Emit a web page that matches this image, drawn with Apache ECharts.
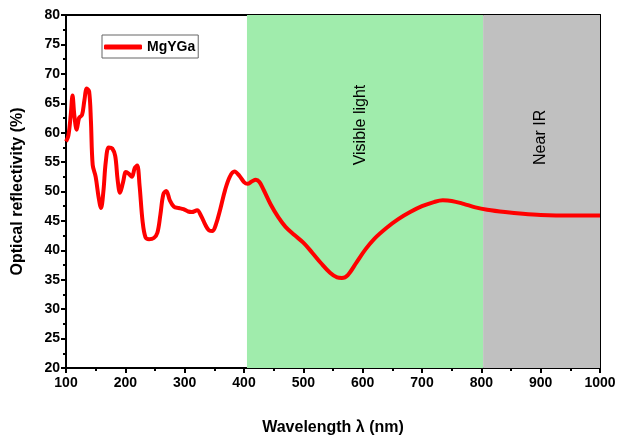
<!DOCTYPE html>
<html>
<head>
<meta charset="utf-8">
<script src="https://cdn.jsdelivr.net/npm/echarts@6/dist/echarts.min.js"></script>
<style>html,body{margin:0;padding:0;background:#fff}#c{width:621px;height:443px}</style>
</head>
<body>
<div id="c"></div>
<script>
var wavelength = [100,104,108,111,114,118,122,127,131,135,139,142,145,150,155,159,163,167,172,178,183,187,191,196,201,206,211,216,220,224,229,234,240,248,254,259,264,269,275,282,290,298,306,312,321,328,335,341,347,353,360,368,376,384,392,400,406,413,420,426,433,445,458,470,485,500,515,530,545,557,565,575,590,605,620,640,660,680,700,720,735,750,770,790,810,840,870,900,950,1000];
var reflectivity = [58.5,59.5,63,66.3,63,60.5,62.5,63,65.5,67.5,67,62,54.5,52.5,49,47.2,50,55,57.5,57.3,56,52,49.8,51.5,53.3,53,52.5,54,54.4,51,45,42.2,41.9,42.1,43,46,49.5,50.1,48.5,47.4,47.2,47,46.6,46.5,46.8,45.8,44.3,43.4,43.3,44.5,47,50.2,52.5,53.4,52.7,51.6,51.3,51.7,52,51.6,50.3,47.8,45.6,44,42.6,41.3,39.6,37.8,36.2,35.4,35.3,35.8,38,40.2,42,43.8,45.3,46.5,47.5,48.2,48.5,48.4,47.9,47.3,46.9,46.5,46.2,46,45.9,45.9];
var seriesName = 'MgYGa';
var regionNames = ['Visible light', 'Near IR'];
var regionFrom = [405, 803];
var regionTo = [803, 1000];
var regionColors = ['#a0ecac', '#c0c0c0'];
var regionLabelX = [596, 900];
var regionLabelY = [61.3, 59.2];
var xTicks = [100,200,300,400,500,600,700,800,900,1000];
var yTicks = [20,25,30,35,40,45,50,55,60,65,70,75,80];

var FONT = 'Liberation Sans, Arial, sans-serif';
var chart = echarts.init(document.getElementById('c'));
var pts = wavelength.map(function(x,i){return [x, reflectivity[i]];});
chart.setOption({
  animation: false,
  backgroundColor: '#fff',
  grid: {left: 66, right: 21, top: 15, bottom: 75},
  legend: {
    data: [seriesName], left: 102, top: 35,
    itemWidth: 38, itemHeight: 5, itemGap: 4,
    padding: [5, 3, 4, 2],
    borderColor: '#666', borderWidth: 1,
    textStyle: {fontFamily: FONT, fontWeight: 'bold', fontSize: 14, color: '#000'},
    icon: 'roundRect'
  },
  xAxis: [{
    type: 'value', min: xTicks[0], max: xTicks[xTicks.length-1], interval: 100,
    name: 'Wavelength λ (nm)', nameLocation: 'middle', nameGap: 52,
    nameTextStyle: {fontFamily: FONT, fontWeight: 'bold', fontSize: 16, color: '#000'},
    axisLine: {lineStyle: {color: '#000', width: 2}},
    axisTick: {inside: false, length: 5, lineStyle: {color: '#000', width: 2}},
    minorTick: {show: true, splitNumber: 2, length: 3, lineStyle: {color: '#000', width: 2}},
    axisLabel: {fontFamily: FONT, fontWeight: 'bold', fontSize: 14, color: '#000', margin: 8,
                formatter: function(v){return String(v);}},
    splitLine: {show: false}
  }, {
    type: 'value', position: 'top', min: xTicks[0], max: xTicks[xTicks.length-1],
    axisLine: {lineStyle: {color: '#000', width: 2}},
    axisTick: {show: false}, axisLabel: {show: false}, splitLine: {show: false}
  }],
  yAxis: [{
    type: 'value', min: yTicks[0], max: yTicks[yTicks.length-1], interval: 5,
    name: 'Optical reflectivity (%)', nameLocation: 'middle', nameGap: 40,
    nameTextStyle: {fontFamily: FONT, fontWeight: 'bold', fontSize: 16, color: '#000'},
    axisLine: {lineStyle: {color: '#000', width: 2}},
    axisTick: {inside: false, length: 5, lineStyle: {color: '#000', width: 2}},
    minorTick: {show: true, splitNumber: 2, length: 3, lineStyle: {color: '#000', width: 2}},
    axisLabel: {fontFamily: FONT, fontWeight: 'bold', fontSize: 14, color: '#000', margin: 6},
    splitLine: {show: false}
  }, {
    type: 'value', position: 'right', min: yTicks[0], max: yTicks[yTicks.length-1],
    axisLine: {show: true, lineStyle: {color: '#000', width: 2}},
    axisTick: {show: false}, axisLabel: {show: false}, splitLine: {show: false}
  }],
  series: [{
    name: seriesName, type: 'line', data: pts, smooth: 0.35, symbol: 'none',
    lineStyle: {color: '#ff0000', width: 4}, itemStyle: {color: '#ff0000'},
    z: 5,
    markArea: {
      silent: true,
      data: regionNames.map(function(n, i){
        return [{xAxis: regionFrom[i], itemStyle: {color: regionColors[i], opacity: 1}, label: {show: false}},
                {xAxis: regionTo[i]}];
      })
    }
  }]
});
var g = regionNames.map(function(n, i){
  var p = chart.convertToPixel({gridIndex: 0}, [regionLabelX[i], regionLabelY[i]]);
  return {type: 'text', x: p[0], y: p[1], rotation: Math.PI/2, z: 10,
          style: {text: n, textAlign: 'center', textVerticalAlign: 'middle',
                  font: '16px ' + FONT, fill: '#000'}};
});
chart.setOption({graphic: g});
</script>
</body>
</html>
